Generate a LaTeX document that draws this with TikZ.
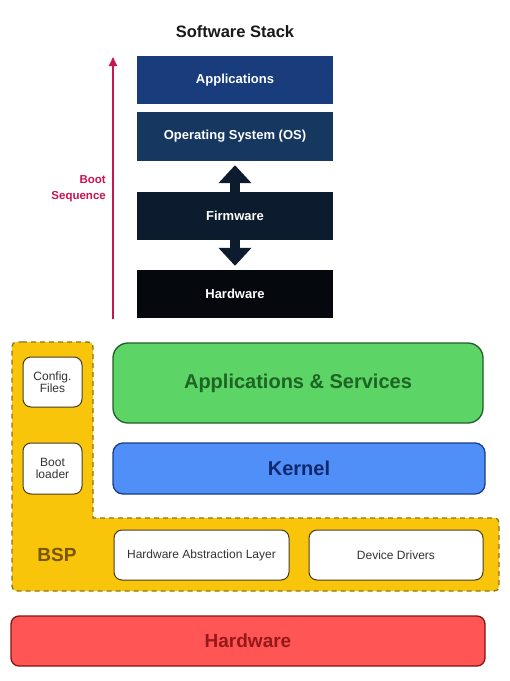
\documentclass[tikz,border=0pt]{standalone}
\usepackage{fontspec}
\setmainfont{Liberation Sans}
\usetikzlibrary{arrows.meta}
\definecolor{appblue}{RGB}{24,60,124}
\definecolor{osblue}{RGB}{21,55,96}
\definecolor{fwnavy}{RGB}{12,27,46}
\definecolor{hwblack}{RGB}{5,9,14}
\definecolor{bootred}{RGB}{200,21,79}
\definecolor{bspgold}{RGB}{249,197,10}
\definecolor{bspedge}{RGB}{140,115,30}
\definecolor{bsptext}{RGB}{120,85,0}
\definecolor{whiteedge}{RGB}{70,60,30}
\definecolor{asgreen}{RGB}{92,212,102}
\definecolor{asedge}{RGB}{35,95,40}
\definecolor{astext}{RGB}{30,100,35}
\definecolor{kblue}{RGB}{79,143,247}
\definecolor{kedge}{RGB}{25,60,140}
\definecolor{ktext}{RGB}{16,40,110}
\definecolor{hwred}{RGB}{255,85,85}
\definecolor{hwedge}{RGB}{130,20,20}
\definecolor{hwtext}{RGB}{150,25,25}
\tikzset{
  stackbox/.style={rectangle, inner sep=0pt, minimum width=196pt, text=white,
    font=\fontsize{13}{15}\selectfont\bfseries},
  fatarrow/.style={draw=fwnavy, line width=10pt,
    -{Triangle[length=18pt 0 0, width=32pt 0 0]}},
  whitebox/.style={rectangle, rounded corners=8pt, fill=white, draw=whiteedge,
    line width=1pt, inner sep=0pt, align=center, text=black!80,
    font=\fontsize{12}{12.5}\selectfont},
  layerbox/.style={rectangle, inner sep=0pt, line width=1.3pt,
    font=\fontsize{20}{22}\selectfont\bfseries},
}
\begin{document}
\begin{tikzpicture}[x=1pt, y=-1pt]
\useasboundingbox (0,0) rectangle (510,681);
\fill[white] (0,0) rectangle (510,681);

% title
\node[font=\fontsize{16.5}{18}\selectfont\bfseries, text=black!90] (title) at (235,32) {Software Stack};

% software stack
\node[stackbox, fill=appblue, minimum height=48pt] (apps) at (235,80) {Applications};
\node[stackbox, fill=osblue, minimum height=49pt] (os) at (235,136.5) {Operating System (OS)};
\node[stackbox, fill=fwnavy, minimum height=48pt] (fw) at (235,216) {Firmware};
\node[stackbox, fill=hwblack, minimum height=48pt] (hwtop) at (235,294) {Hardware};

\draw[fatarrow] (fw.north) -- ([yshift=-4pt]os.south);
\draw[fatarrow] (fw.south) -- ([yshift=4pt]hwtop.north);

% boot sequence
\coordinate (bootS) at (113,319);
\coordinate (bootE) at (113,57);
\draw[draw=bootred, line width=1.8pt, -{Triangle[length=9pt 0 0, width=8pt 0 0]}] (bootS) -- (bootE);
\node[anchor=east, align=right, text=bootred, inner sep=0pt,
  font=\fontsize{11.5}{16}\selectfont\bfseries] (bootlbl) at (106,189) {Boot\\Sequence};

% BSP L-shape
\filldraw[fill=bspgold, draw=bspedge, line width=1.3pt, dash pattern=on 5pt off 4pt]
  (22,342) -- (83,342) .. controls (93,342) .. (93,352) -- (93,518)
  -- (489,518) .. controls (499,518) .. (499,528) -- (499,581)
  .. controls (499,591) .. (489,591) -- (22,591)
  .. controls (12,591) .. (12,581) -- (12,352)
  .. controls (12,342) .. (22,342) -- cycle;
\node[text=bsptext, font=\fontsize{19}{21}\selectfont\bfseries] (bsp) at (57,555) {BSP};

\node[whitebox, minimum width=59pt, minimum height=50pt] (cfg) at (52.5,382) {Config.\\Files};
\node[whitebox, minimum width=59pt, minimum height=51pt] (boot) at (52.5,468.5) {Boot\\loader};
\node[whitebox, minimum width=175pt, minimum height=50pt] (hal) at (201.5,555) {Hardware Abstraction Layer};
\node[whitebox, minimum width=174pt, minimum height=50pt] (dd) at (396,555) {Device Drivers};

% layers
\node[layerbox, rounded corners=15pt, fill=asgreen, draw=asedge, text=astext,
  minimum width=370pt, minimum height=80pt] (as) at (298,383) {Applications \& Services};
\node[layerbox, rounded corners=10pt, fill=kblue, draw=kedge, text=ktext,
  minimum width=372pt, minimum height=51pt] (kernel) at (299,468.5) {Kernel};
\node[layerbox, rounded corners=8pt, fill=hwred, draw=hwedge, text=hwtext,
  font=\fontsize{19}{21}\selectfont\bfseries,
  minimum width=474pt, minimum height=50pt] (hw) at (248,641) {Hardware};
\end{tikzpicture}
\end{document}
